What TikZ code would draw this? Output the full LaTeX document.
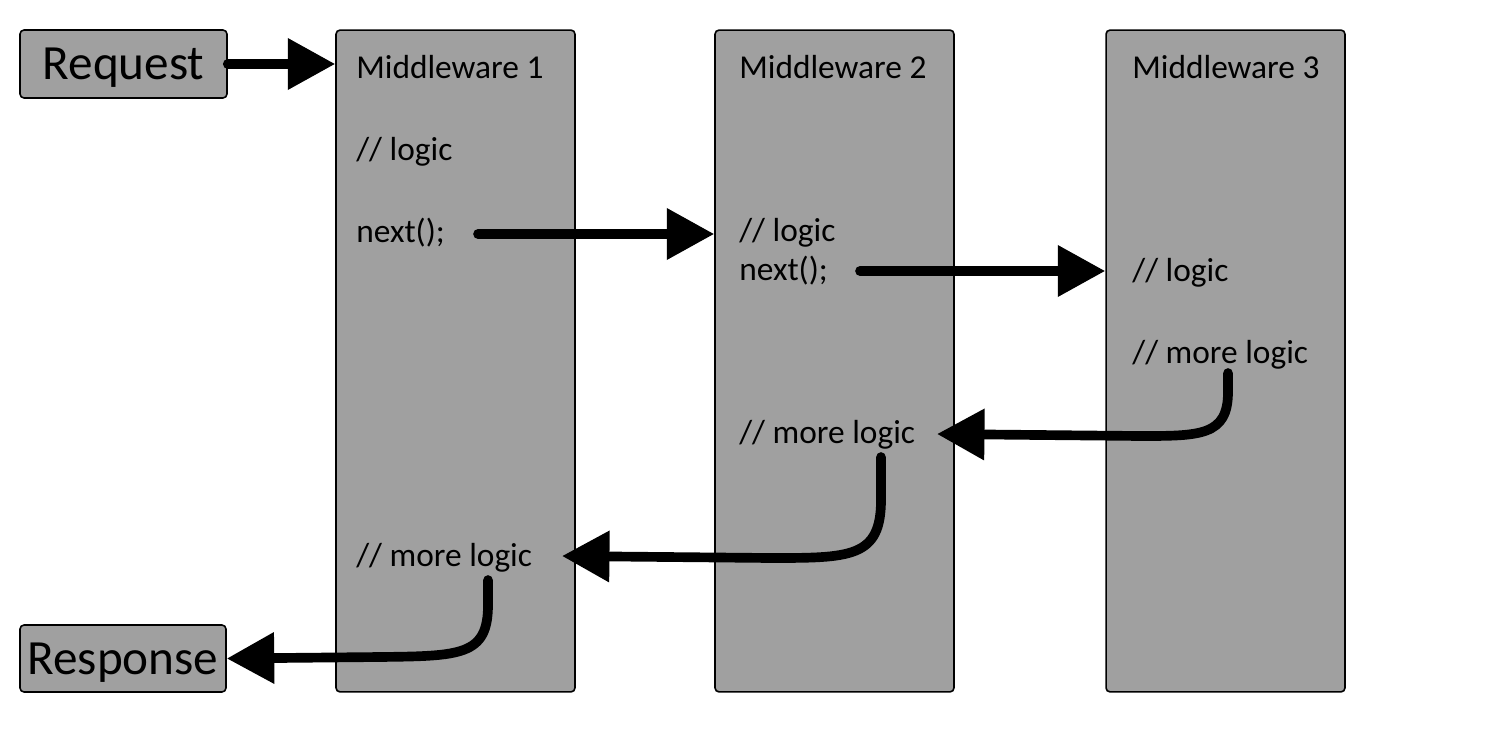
\documentclass[tikz,border=0pt]{standalone}
\usepackage{fontspec}
\setmainfont{Carlito}
\usetikzlibrary{arrows.meta}
\definecolor{boxgray}{HTML}{A0A0A0}
\begin{document}
\begin{tikzpicture}[x=0.02cm,y=-0.02cm,
  box/.style={draw=black,fill=boxgray,line width=0.9pt,rounded corners=2.3pt,inner sep=0pt},
  big/.style={font=\fontsize{28}{32}\selectfont,text depth=0pt},
  lbl/.style={anchor=base west,inner sep=0pt,font=\fontsize{19}{23}\selectfont},
  flow/.style={line width=5.5pt,line cap=round,-{Triangle[length=27pt,width=28pt]}}]
\useasboundingbox (0,0) rectangle (1500,750);
% boxes
\node[box,big,minimum width=4.14cm,minimum height=1.36cm] (req) at (123.5,64) {Request};
\node[box,big,minimum width=4.12cm,minimum height=1.34cm] (resp) at (123,658.5) {Response};
\node[box,minimum width=4.78cm,minimum height=13.24cm] (mw1) at (455.5,361) {};
\node[box,minimum width=4.78cm,minimum height=13.24cm] (mw2) at (834.5,361) {};
\node[box,minimum width=4.78cm,minimum height=13.24cm] (mw3) at (1225.5,361) {};
% texts
\node[lbl] (title1) at (356,79) {Middleware 1};
\node[lbl] (logic1) at (356,160) {// logic};
\node[lbl] (next1) at (356,242) {next();};
\node[lbl] (more1) at (356,566) {// more logic};
\node[lbl] (title2) at (739,79) {Middleware 2};
\node[lbl] (logic2) at (739,241) {// logic};
\node[lbl] (next2) at (739,280) {next();};
\node[lbl] (more2) at (739,443) {// more logic};
\node[lbl] (title3) at (1132,79) {Middleware 3};
\node[lbl] (logic3) at (1132,281) {// logic};
\node[lbl] (more3) at (1132,363) {// more logic};
% arrows
\coordinate (n1) at (478,234);
\coordinate (n2) at (860,271);
\coordinate (b3) at (1228,373);
\coordinate (b2) at (881,457);
\coordinate (b1) at (488,580);
\coordinate (t2) at (937,434);
\coordinate (t1) at (562,556);
\draw[flow] (req.east) -- (req.east -| mw1.west);
\draw[flow] (n1) -- (n1 -| mw2.west);
\draw[flow] (n2) -- (n2 -| mw3.west);
\draw[flow] (b3) -- (1228,392) .. controls (1228,436) and (1200,436) .. (1140,436) -- (t2);
\draw[flow] (b2) -- (881,500) .. controls (881,558) and (850,558) .. (770,558) -- (t1);
\draw[flow] (b1) -- (488,605) .. controls (488,656) and (460,656) .. (380,657) -- (resp.east);
\end{tikzpicture}
\end{document}
